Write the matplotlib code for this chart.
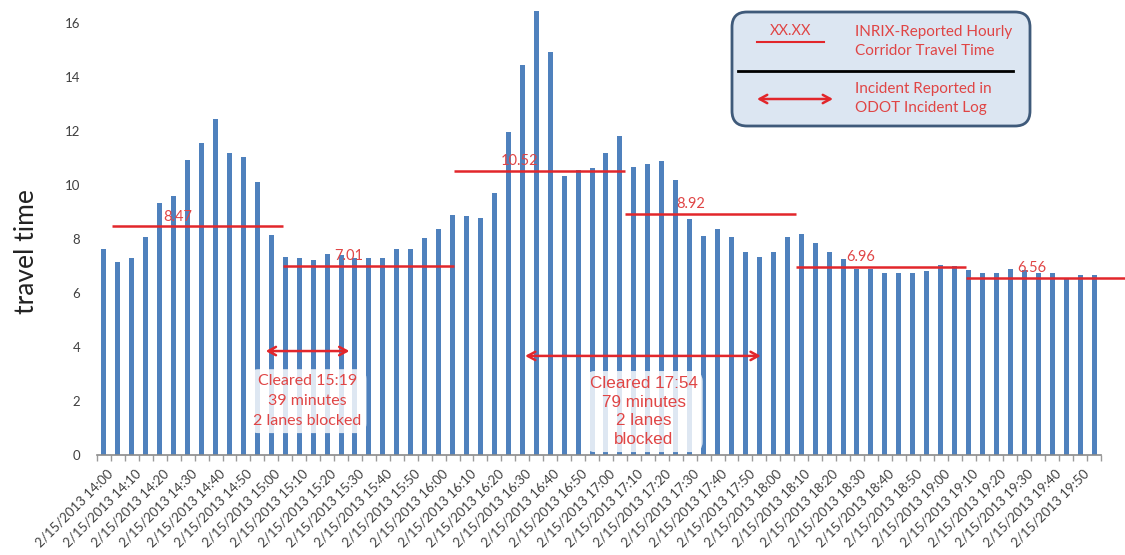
import matplotlib
matplotlib.use("Agg")
import matplotlib.pyplot as plt
import matplotlib.transforms as mtransforms
from matplotlib.patches import FancyBboxPatch
import numpy as np
import pandas as pd

# 5-minute corridor travel times, 2/15/2013 14:00 - 19:55
travel_time = [
    7.62, 7.14, 7.31, 8.09, 9.32, 9.59, 10.91, 11.57, 12.44, 11.17, 11.05, 10.12,
    8.15, 7.34, 7.28, 7.22, 7.44, 7.40, 7.28, 7.28, 7.28, 7.62, 7.62, 8.03,
    8.38, 8.89, 8.85, 8.77, 9.71, 11.97, 14.44, 16.46, 14.94, 10.34, 10.56, 10.62,
    11.20, 11.81, 10.66, 10.77, 10.89, 10.19, 8.74, 8.11, 8.38, 8.09, 7.53, 7.32,
    7.53, 8.09, 8.19, 7.86, 7.51, 7.25, 6.90, 6.89, 6.73, 6.73, 6.75, 6.80,
    7.04, 7.01, 6.85, 6.73, 6.73, 6.89, 6.85, 6.73, 6.73, 6.57, 6.67, 6.67,
]
times = pd.date_range("2013-02-15 14:00", periods=len(travel_time), freq="5min")
tick_labels = [f"{t.month}/{t.day}/{t.year} {t:%H:%M}" for t in times[::2]]

# INRIX hourly corridor travel times
hourly_values = [8.47, 7.01, 10.52, 8.92, 6.96, 6.56]

# incidents from the ODOT log: arrow span (bar units), height, caption
incident_spans = [(11.6, 17.6), (30.2, 47.1)]
incident_heights = [3.85, 3.67]
incident_text = ["Cleared 15:19\n39 minutes\n2 lanes blocked",
                 "Cleared 17:54\n79 minutes\n2 lanes\nblocked"]

BAR = "#4F81BD"
RED = "#E2262B"
LABEL_RED = "#E04545"
GREY_TXT = "#404040"

fig = plt.figure(figsize=(11.25, 5.55), dpi=100)
W, H = 1125, 555
ax = fig.add_axes([97 / W, 100 / H, 1004 / W, 455 / H])

x = np.arange(len(travel_time))
ax.bar(x, travel_time, width=0.36, color=BAR, zorder=2)
ax.set_xlim(-0.5, len(travel_time) - 0.5)
ax.set_ylim(0, 455 / 27.0)

for s in ("top", "right", "left"):
    ax.spines[s].set_visible(False)
ax.spines["bottom"].set_color("#8a8a8a")
ax.spines["bottom"].set_linewidth(1.2)

ax.set_yticks(np.arange(0, 17, 2))
ax.tick_params(axis="y", length=0, pad=12, labelsize=9.5, labelcolor=GREY_TXT)
for lab in ax.get_yticklabels():
    lab.set_family("Lato")

ax.set_xticks(x[::2])
ax.set_xticklabels(tick_labels, rotation=45, ha="right", va="center",
                   rotation_mode="anchor", family="Lato", fontsize=9.5,
                   color=GREY_TXT)
ax.set_xticks(np.arange(-0.5, len(travel_time), 1), minor=True)
ax.tick_params(axis="x", which="major", length=0, pad=12)
ax.tick_params(axis="x", which="minor", length=4, color="#9a9a9a", width=1)
shift = mtransforms.ScaledTranslation(7 / 100, 0, fig.dpi_scale_trans)
for lab in ax.get_xticklabels():
    lab.set_transform(lab.get_transform() + shift)

fig.text(27 / W, 1 - 252 / H, "travel time", rotation=90, ha="center",
         va="center", family="Lato", fontsize=19, color="#222222")

# hourly INRIX lines with their values
for k, v in enumerate(hourly_values):
    start = 0.6 + 12.25 * k
    end = start + 12.25 if k < len(hourly_values) - 1 else start + 13.0
    ax.plot([start, end], [v, v], color=RED, lw=1.8, zorder=4,
            solid_capstyle="butt", clip_on=False)
    ax.annotate(f"{v:.2f}", (start + 4.7, v), xytext=(0, 2),
                textcoords="offset points", ha="center", va="bottom",
                color=LABEL_RED, fontsize=10.5, family="Lato", zorder=5)

# incident arrows and captions
fonts = ["Lato", "Liberation Sans"]
sizes = [11.5, 12.3]
spacing = [1.56, 1.3]
text_x = [14.6, 38.7]
text_drop = [0.85, 0.75]
for (a, b), yv, txt, fam, fs, ls, tx, dy in zip(incident_spans,
                                                incident_heights,
                                                incident_text, fonts, sizes,
                                                spacing, text_x, text_drop):
    ax.annotate("", xy=(b, yv), xytext=(a, yv),
                arrowprops=dict(arrowstyle="<->,head_length=0.55,head_width=0.3",
                                color=RED, lw=1.8, shrinkA=0, shrinkB=0),
                zorder=5)
    ax.text(tx, yv - dy, txt, ha="center", va="top", color=LABEL_RED,
            family=fam, fontsize=fs, linespacing=ls, zorder=5,
            bbox=dict(boxstyle="round,pad=0.3,rounding_size=0.6",
                      facecolor="white", edgecolor="none", alpha=0.82))

# key box
lax = fig.add_axes([730 / W, (H - 128) / H, 302 / W, 118 / H], zorder=10)
lax.set_xlim(0, 302)
lax.set_ylim(0, 118)
lax.axis("off")
lax.add_patch(FancyBboxPatch((2, 2), 298, 114,
                             boxstyle="round,pad=0,rounding_size=15",
                             facecolor="#DCE6F2", edgecolor="#3F5A7A",
                             lw=2, clip_on=False))
lax.text(61, 97, "XX.XX", ha="center", va="center", color=LABEL_RED,
         family="Lato", fontsize=10.5)
lax.plot([27, 94], [86, 86], color=RED, lw=1.5)
lax.text(125, 86.5, "INRIX-Reported Hourly\nCorridor Travel Time",
         ha="left", va="center", color=LABEL_RED, family="Lato",
         fontsize=11, linespacing=1.5)
lax.plot([8, 283], [57, 57], color="black", lw=2)
lax.annotate("", xy=(103, 29), xytext=(27, 29),
             arrowprops=dict(arrowstyle="<->,head_length=0.55,head_width=0.3",
                             color=RED, lw=1.8, shrinkA=0, shrinkB=0))
lax.text(125, 29.5, "Incident Reported in\nODOT Incident Log",
         ha="left", va="center", color=LABEL_RED, family="Lato",
         fontsize=11, linespacing=1.5)

fig.savefig("out.png", dpi=100)
